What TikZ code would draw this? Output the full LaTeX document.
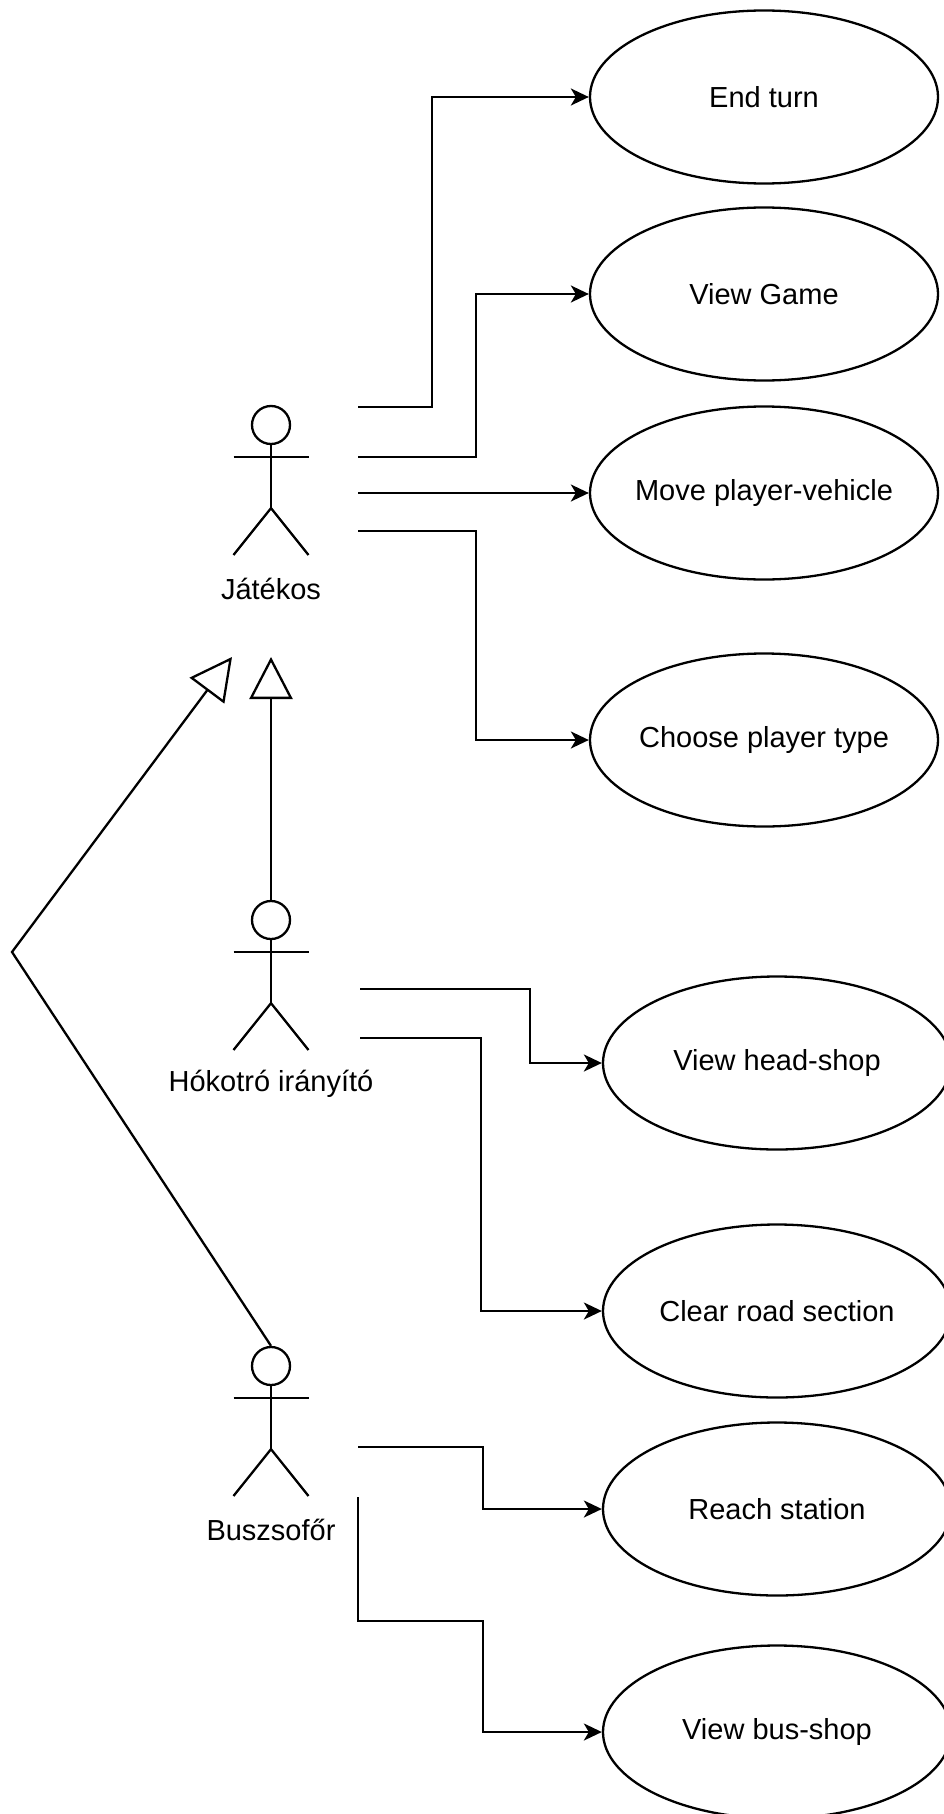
\documentclass[tikz,border=0pt]{standalone}
\usepackage{fontspec}
\setmainfont{Liberation Sans}
\usetikzlibrary{arrows.meta,shapes.geometric}
\newcommand\drawactor[4]{%
  \node[circle,draw,minimum size=38pt,inner sep=0pt] (#1) at (#2,#3) {};
  \draw (#1.south) -- ++(0,63) coordinate (#1hip);
  \draw (#2-37.5,#3+32) -- (#2+37.5,#3+32);
  \draw (#2-37.5,#3+130) -- (#1hip) -- (#2+37.5,#3+130);
  \node[txt] (#1lbl) at (#2,#3+164) {#4};
}
\newcommand\usecasenode[4]{%
  \node[usecase,label={[txt]center:#4}] (#1) at (#2,#3) {};
}
\begin{document}
\begin{tikzpicture}[x=1pt,y=-1pt,line width=2.3pt,
  txt/.style={font=\fontsize{29}{35}\selectfont,inner sep=0pt},
  usecase/.style={ellipse,draw,minimum width=348pt,minimum height=173pt,inner sep=0pt},
  assoc/.style={-{Stealth[length=18pt,width=17pt,inset=5pt]}},
  gen/.style={-{Triangle[open,length=42pt,width=43pt,fill=white]}}]
\useasboundingbox (0,0) rectangle (944,1814);

% use cases
\usecasenode{et}{764}{97}{End turn}
\usecasenode{vg}{764}{294}{View Game}
\usecasenode{mv}{764}{493}{Move player-vehicle}
\usecasenode{cp}{764}{740}{Choose player type}
\usecasenode{hs}{777}{1063}{View head-shop}
\usecasenode{cr}{777}{1311}{Clear road section}
\usecasenode{rs}{777}{1509}{Reach station}
\usecasenode{bs}{777}{1732}{View bus-shop}

% actors
\drawactor{jh}{271}{425}{Játékos}
\drawactor{hh}{271}{920}{Hókotró irányító}
\drawactor{bh}{271}{1366}{Buszsofőr}

% connector start points
\coordinate (j1) at (358,407);
\coordinate (j2) at (358,457);
\coordinate (j3) at (358,493);
\coordinate (j4) at (358,531);
\coordinate (h1) at (360,989);
\coordinate (h2) at (360,1038);
\coordinate (b1) at (358,1447);
\coordinate (b2) at (358,1497);
\coordinate (gbend) at (12,952);
\coordinate (gtipA) at (232,657);
\coordinate (gtipB) at (271,657);

% associations
\draw[assoc] (j1) -| (432,97) -- (et.west);
\draw[assoc] (j2) -| (476,294) -- (vg.west);
\draw[assoc] (j3) -- (mv.west);
\draw[assoc] (j4) -| (476,740) -- (cp.west);
\draw[assoc] (h1) -| (530,1063) -- (hs.west);
\draw[assoc] (h2) -| (481,1311) -- (cr.west);
\draw[assoc] (b1) -| (483,1509) -- (rs.west);
\draw[assoc] (b2) -- (358,1621) -| (483,1732) -- (bs.west);

% generalizations
\draw[gen] (hh.north) -- (gtipB);
\draw[gen,line join=miter] (bh.north) -- (gbend) -- (gtipA);
\end{tikzpicture}
\end{document}
